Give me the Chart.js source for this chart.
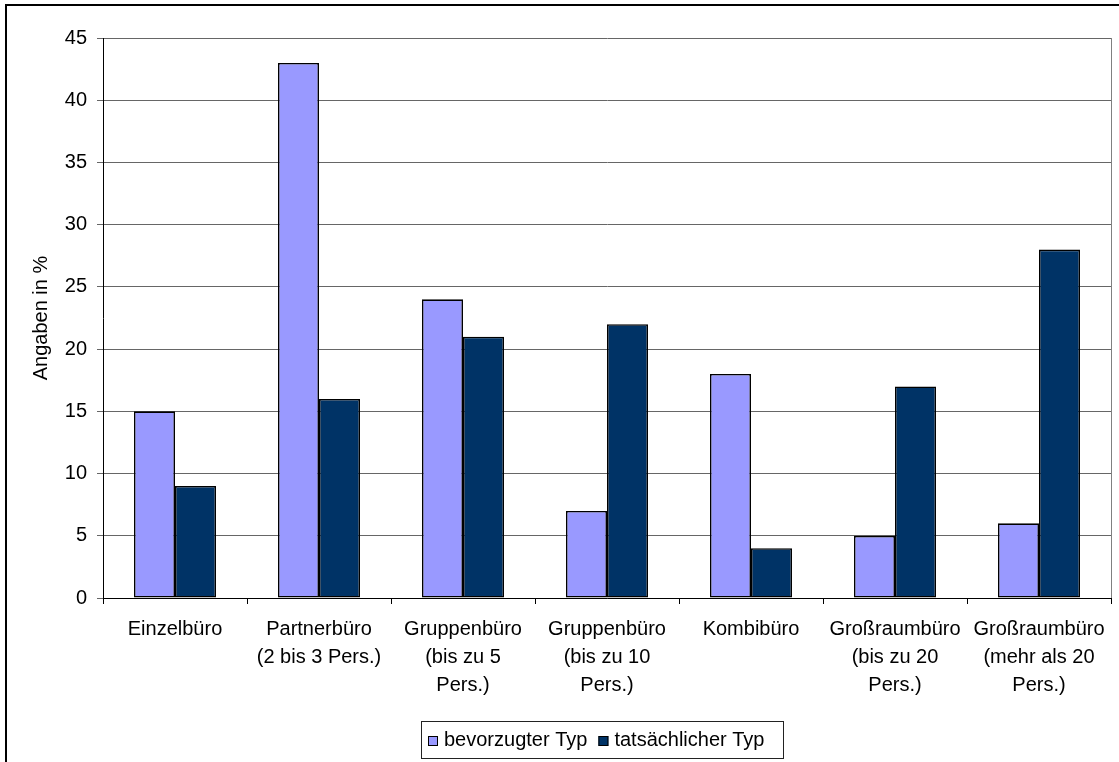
<!DOCTYPE html>
<html>
<head>
<meta charset="utf-8">
<script src="https://cdn.jsdelivr.net/npm/chart.js@4"></script>
<style>
  html, body { margin: 0; padding: 0; background: #fff; }
  #wrap { width: 1119px; height: 762px; }
</style>
</head>
<body>
<div id="wrap"><canvas id="c" width="1119" height="762"></canvas></div>
<script>
// Office types (multi-line labels)
const categories = [
  ['Einzelbüro'],
  ['Partnerbüro', '(2 bis 3 Pers.)'],
  ['Gruppenbüro', '(bis zu 5', 'Pers.)'],
  ['Gruppenbüro', '(bis zu 10', 'Pers.)'],
  ['Kombibüro'],
  ['Großraumbüro', '(bis zu 20', 'Pers.)'],
  ['Großraumbüro', '(mehr als 20', 'Pers.)']
];
// Share of respondents in %
const preferred = [15, 43, 24, 7, 18, 5, 6];
const actual = [9, 16, 21, 22, 4, 17, 28];
const seriesNames = ['bevorzugter Typ', 'tatsächlicher Typ'];
const seriesColors = ['#9999FF', '#003366'];
const yMin = 0, yMax = 45, yStep = 5;
const yTitle = 'Angaben in %';

const FONT = "'Liberation Sans', Arial, sans-serif";

// Frame, plot-area border and a boxed legend
const decorations = {
  id: 'decorations',
  afterDraw(chart) {
    const ctx = chart.ctx;
    const area = chart.chartArea;
    ctx.save();
    // outer frame (top and left edges)
    ctx.fillStyle = '#000';
    ctx.fillRect(5, 4, 1114, 2);
    ctx.fillRect(5, 4, 2, 758);
    // right edge of the plot area
    ctx.strokeStyle = '#808080';
    ctx.lineWidth = 1;
    ctx.beginPath();
    ctx.moveTo(Math.round(area.right) + 0.5, area.top);
    ctx.lineTo(Math.round(area.right) + 0.5, area.bottom);
    ctx.stroke();

    // legend
    ctx.font = '20px ' + FONT;
    ctx.textBaseline = 'middle';
    ctx.textAlign = 'left';
    const box = { x: 421.5, y: 721.5, w: 362, h: 37 };
    ctx.strokeStyle = '#222';
    ctx.strokeRect(box.x, box.y, box.w, box.h);
    let x = 428;
    const cy = 740;
    chart.data.datasets.forEach((ds, i) => {
      ctx.fillStyle = ds.backgroundColor;
      ctx.fillRect(x, cy - 4, 10, 10);
      ctx.strokeStyle = '#000';
      ctx.strokeRect(x + 0.5, cy - 3.5, 9, 9);
      ctx.fillStyle = '#000';
      ctx.fillText(ds.label, x + 16, cy);
      x += 16 + ctx.measureText(ds.label).width + 11;
    });
    ctx.restore();
  }
};

new Chart(document.getElementById('c'), {
  type: 'bar',
  data: {
    labels: categories,
    datasets: [
      { label: seriesNames[0], data: preferred, backgroundColor: seriesColors[0] },
      { label: seriesNames[1], data: actual, backgroundColor: seriesColors[1] }
    ]
  },
  options: {
    responsive: false,
    animation: false,
    devicePixelRatio: 1,
    layout: { padding: { left: 25, top: 38, right: 8, bottom: 0 } },
    datasets: {
      bar: {
        categoryPercentage: 0.57,
        barPercentage: 1.0,
        borderColor: '#000',
        borderWidth: 1.6,
        borderSkipped: false
      }
    },
    plugins: {
      legend: { display: false },
      tooltip: { enabled: false }
    },
    scales: {
      x: {
        offset: true,
        afterFit(scale) { scale.height = 164; },
        grid: {
          offset: true,
          drawOnChartArea: false,
          drawTicks: true,
          tickLength: 6,
          color: '#000'
        },
        border: { display: true, color: '#000', width: 1 },
        ticks: {
          autoSkip: false,
          maxRotation: 0,
          padding: 11,
          color: '#000',
          font: { family: FONT, size: 20, lineHeight: 1.4 }
        }
      },
      y: {
        min: yMin,
        max: yMax,
        afterFit(scale) { scale.width = 78; },
        grid: {
          color: '#666',
          lineWidth: 1,
          drawTicks: true,
          tickLength: 6
        },
        border: { display: true, color: '#000', width: 1 },
        ticks: {
          stepSize: yStep,
          padding: 10,
          color: '#000',
          font: { family: FONT, size: 20 }
        },
        title: {
          display: true,
          text: yTitle,
          color: '#000',
          font: { family: FONT, size: 20 },
          padding: { top: 4, bottom: 4 }
        }
      }
    }
  },
  plugins: [decorations]
});
</script>
</body>
</html>
